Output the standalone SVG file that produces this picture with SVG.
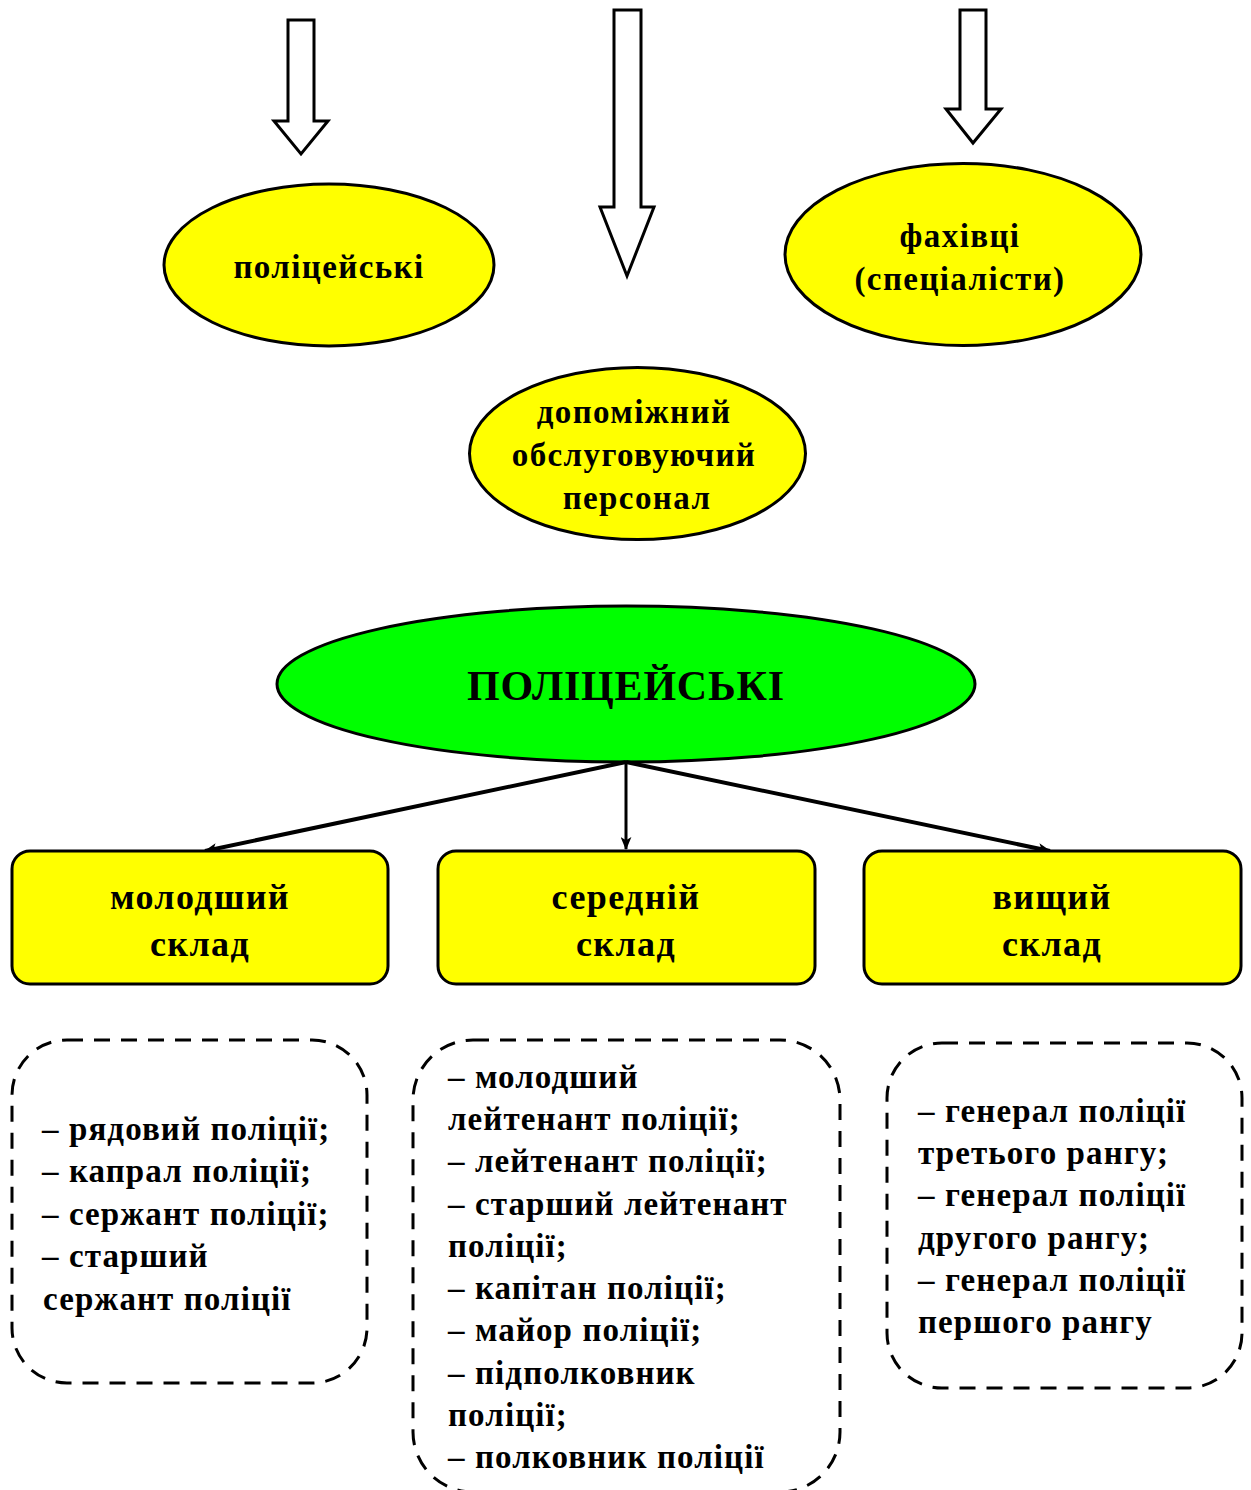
<svg xmlns="http://www.w3.org/2000/svg" width="1251" height="1490" viewBox="0 0 1251 1490">
<style>
text{font-family:"Liberation Serif","Times New Roman",serif;font-weight:bold;fill:#000}
.c{text-anchor:middle}
.e{stroke:#000;stroke-width:3}
.y{fill:#FFFF00}
.g{fill:#00FF00}
.bigarrow{fill:#fff;stroke:#000;stroke-width:3;stroke-linejoin:miter}
.box{fill:#FFFF00;stroke:#000;stroke-width:3}
.dash{fill:none;stroke:#000;stroke-width:3;stroke-dasharray:16 11}
.lt{font-size:33px;letter-spacing:1.1px}
.et{font-size:33px;letter-spacing:1.4px}
.bt{font-size:36px;letter-spacing:1.4px}
.conn{stroke:#000;fill:none}
</style>
<defs>
<marker id="ah" viewBox="0 0 12 10" refX="11" refY="5" markerWidth="13" markerHeight="11" markerUnits="userSpaceOnUse" orient="auto">
<path d="M0,0 L12,5 L0,10 L3,5 z" fill="#000"/>
</marker>
</defs>

<g id="arrow-left">
<path class="bigarrow" d="M288,20 L314,20 L314,121 L328,121 L301,154 L274,121 L288,121 Z"/>
</g>
<g id="arrow-middle">
<path class="bigarrow" d="M614,10 L641,10 L641,207 L654,207 L627,276 L600,207 L614,207 Z"/>
</g>
<g id="arrow-right">
<path class="bigarrow" d="M960,10 L986,10 L986,109 L1001,109 L973,143 L946,109 L960,109 Z"/>
</g>

<g id="node-politseiski">
<ellipse class="e y" cx="329" cy="265" rx="165" ry="81"/>
<text class="c et" x="329" y="278">поліцейські</text>
</g>
<g id="node-fakhivtsi">
<ellipse class="e y" cx="963" cy="254.5" rx="178" ry="91"/>
<text class="c et" x="960" y="247">фахівці</text>
<text class="c et" x="960" y="290">(спеціалісти)</text>
</g>
<g id="node-dopomizhnyi">
<ellipse class="e y" cx="637.5" cy="453.5" rx="168" ry="86"/>
<text class="c et" x="634" y="423">допоміжний</text>
<text class="c et" x="634" y="466">обслуговуючий</text>
<text class="c et" x="637" y="509">персонал</text>
</g>
<g id="node-main">
<ellipse class="e g" cx="626" cy="684" rx="349" ry="78"/>
<text class="c" x="626" y="700" font-size="42" letter-spacing="0.8">ПОЛІЦЕЙСЬКІ</text>
</g>

<g id="connectors">
<line class="conn" stroke-width="4" x1="626" y1="762" x2="205" y2="851" marker-end="url(#ah)"/>
<line class="conn" stroke-width="3" x1="626" y1="762" x2="626" y2="849" marker-end="url(#ah)"/>
<line class="conn" stroke-width="4" x1="626" y1="762" x2="1050" y2="851" marker-end="url(#ah)"/>
</g>

<g id="node-molodshyi">
<rect class="box" x="12" y="851" width="376" height="133" rx="18"/>
<text class="c bt" x="200" y="909">молодший</text>
<text class="c bt" x="200" y="956">склад</text>
</g>
<g id="node-serednii">
<rect class="box" x="438" y="851" width="377" height="133" rx="18"/>
<text class="c bt" x="626" y="909">середній</text>
<text class="c bt" x="626" y="956">склад</text>
</g>
<g id="node-vyshchyi">
<rect class="box" x="864" y="851" width="377" height="133" rx="18"/>
<text class="c bt" x="1052" y="909">вищий</text>
<text class="c bt" x="1052" y="956">склад</text>
</g>

<g id="list-molodshyi">
<rect class="dash" x="12" y="1040" width="355" height="343" rx="55"/>
<text class="lt" x="42" y="1140">– рядовий поліції;</text>
<text class="lt" x="42" y="1182">– капрал поліції;</text>
<text class="lt" x="42" y="1225">– сержант поліції;</text>
<text class="lt" x="42" y="1267">– старший</text>
<text class="lt" x="43" y="1310">сержант поліції</text>
</g>
<g id="list-serednii">
<rect class="dash" x="413" y="1040" width="427" height="452" rx="60"/>
<text class="lt" x="448" y="1088">– молодший</text>
<text class="lt" x="448" y="1130">лейтенант поліції;</text>
<text class="lt" x="448" y="1172">– лейтенант поліції;</text>
<text class="lt" x="448" y="1215">– старший лейтенант</text>
<text class="lt" x="448" y="1257">поліції;</text>
<text class="lt" x="448" y="1299">– капітан поліції;</text>
<text class="lt" x="448" y="1341">– майор поліції;</text>
<text class="lt" x="448" y="1384">– підполковник</text>
<text class="lt" x="448" y="1426">поліції;</text>
<text class="lt" x="448" y="1468">– полковник поліції</text>
</g>
<g id="list-vyshchyi">
<rect class="dash" x="887" y="1043" width="355" height="345" rx="55"/>
<text class="lt" x="918" y="1122">– генерал поліції</text>
<text class="lt" x="918" y="1164">третього рангу;</text>
<text class="lt" x="918" y="1206">– генерал поліції</text>
<text class="lt" x="918" y="1249">другого рангу;</text>
<text class="lt" x="918" y="1291">– генерал поліції</text>
<text class="lt" x="918" y="1333">першого рангу</text>
</g>
</svg>
